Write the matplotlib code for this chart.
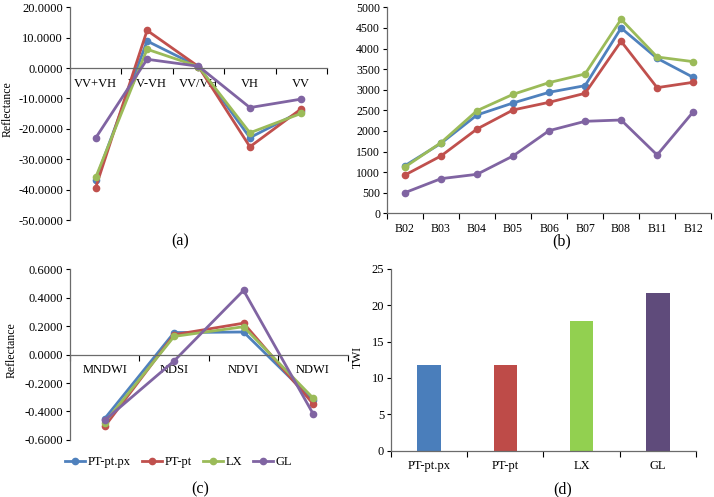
import matplotlib
matplotlib.use('Agg')
import matplotlib.pyplot as plt
import numpy as np

plt.rcParams['font.family'] = ['Liberation Serif', 'DejaVu Serif']
plt.rcParams['font.size'] = 9

series = ['PT-pt.px', 'PT-pt', 'LX', 'GL']
line_colors = ['#4F81BD', '#C0504D', '#9BBB59', '#8064A2']
bar_colors = ['#4A7EBB', '#BE4B48', '#92D050', '#5F4B7B']

# (a) SAR indices
sar_cats = ['VV+VH', 'VV-VH', 'VV/VH', 'VH', 'VV']
sar_pxpx = [-36.8, 8.9, 0.5, -22.9, -14.2]
sar_pt = [-39.3, 12.4, 0.5, -25.9, -13.4]
sar_lx = [-36.0, 6.2, 0.5, -21.3, -14.9]
sar_gl = [-23.0, 2.9, 0.6, -13.0, -10.2]

# (b) Sentinel-2 bands
bands = ['B02', 'B03', 'B04', 'B05', 'B06', 'B07', 'B08', 'B11', 'B12']
band_pxpx = [1157, 1699, 2387, 2678, 2937, 3099, 4498, 3762, 3301]
band_pt = [930, 1392, 2047, 2508, 2694, 2913, 4175, 3050, 3180]
band_lx = [1125, 1715, 2492, 2888, 3172, 3382, 4709, 3794, 3681]
band_gl = [502, 841, 947, 1392, 2006, 2233, 2265, 1416, 2460]

# (c) spectral indices
idx_cats = ['MNDWI', 'NDSI', 'NDVI', 'NDWI']
idx_pxpx = [-0.450, 0.154, 0.158, -0.320]
idx_pt = [-0.505, 0.139, 0.220, -0.345]
idx_lx = [-0.478, 0.127, 0.195, -0.305]
idx_gl = [-0.462, -0.045, 0.450, -0.415]

# (d) TWI
twi = [11.74, 11.76, 17.89, 21.70]


def category_axis(ax, cats, fs=9):
    n = len(cats)
    x = np.arange(n)
    ax.set_xlim(-0.5, n - 0.5)
    ax.set_xticks(x)
    ax.set_xticklabels(cats, fontsize=fs)
    ax.set_xticks(np.arange(n + 1) - 0.5, minor=True)
    ax.tick_params(axis='x', which='major', length=0, pad=7)
    ax.tick_params(axis='x', which='minor', length=4, direction='out', width=0.8)
    ax.tick_params(axis='y', length=3, direction='out', width=0.8, pad=2)
    ax.spines['top'].set_visible(False)
    ax.spines['right'].set_visible(False)
    for s in ['left', 'bottom']:
        ax.spines[s].set_color('#6b6b6b')
        ax.spines[s].set_linewidth(0.9)
    return x


def draw_lines(ax, x, data):
    for vals, c, lab in zip(data, line_colors, series):
        ax.plot(x, vals, color=c, lw=2.0, marker='o', ms=4.5, label=lab)


fig = plt.figure(figsize=(7.14, 4.97), dpi=100)

ax_a = fig.add_axes([0.098, 0.5573, 0.360, 0.428])
x = category_axis(ax_a, sar_cats)
draw_lines(ax_a, x, [sar_pxpx, sar_pt, sar_lx, sar_gl])
ax_a.set_ylim(-50, 20)
ax_a.set_yticks(np.arange(-50, 21, 10))
ax_a.set_yticklabels(['%.4f' % v for v in np.arange(-50, 21, 10)])
ax_a.spines['bottom'].set_position(('data', 0))

ax_b = fig.add_axes([0.542, 0.5708, 0.454, 0.4145])
x = category_axis(ax_b, bands, fs=8.5)
draw_lines(ax_b, x, [band_pxpx, band_pt, band_lx, band_gl])
ax_b.set_ylim(0, 5000)
ax_b.set_yticks(np.arange(0, 5001, 500))
ax_b.tick_params(axis='y', labelsize=8.5)

ax_c = fig.add_axes([0.098, 0.1147, 0.389, 0.344])
x = category_axis(ax_c, idx_cats)
draw_lines(ax_c, x, [idx_pxpx, idx_pt, idx_lx, idx_gl])
ax_c.set_ylim(-0.6, 0.6)
yt = np.arange(-0.6, 0.61, 0.2)
ax_c.set_yticks(yt)
ax_c.set_yticklabels(['%.4f' % (v + 0.0) for v in np.round(yt, 1)])
ax_c.spines['bottom'].set_position(('data', 0))
ax_c.legend(loc='center', bbox_to_anchor=(0.25, 0.0704), bbox_transform=fig.transFigure,
            ncol=4, frameon=False, handlelength=1.6, handletextpad=0.2,
            columnspacing=0.9, fontsize=9)

ax_d = fig.add_axes([0.5476, 0.0932, 0.427, 0.3656])
x = category_axis(ax_d, series)
ax_d.bar(x, twi, width=0.31, color=bar_colors)
ax_d.set_ylim(0, 25)
ax_d.set_yticks(np.arange(0, 26, 5))

fig.text(7.5 / 714, 1 - 109 / 497, 'Reflectance', rotation=90, ha='center', va='center', fontsize=8.5)
fig.text(12 / 714, 1 - 350 / 497, 'Reflectance', rotation=90, ha='center', va='center', fontsize=8.5)
fig.text(358 / 714, 1 - 357 / 497, 'TWI', rotation=90, ha='center', va='center', fontsize=8.5)

for px, py, t in [(180, 241, '(a)'), (562, 241, '(b)'), (200, 489, '(c)'), (563, 489, '(d)')]:
    fig.text(px / 714, 1 - py / 497, t, ha='center', va='center', fontsize=11.5)

fig.savefig('out.png', dpi=100)
plt.close(fig)
